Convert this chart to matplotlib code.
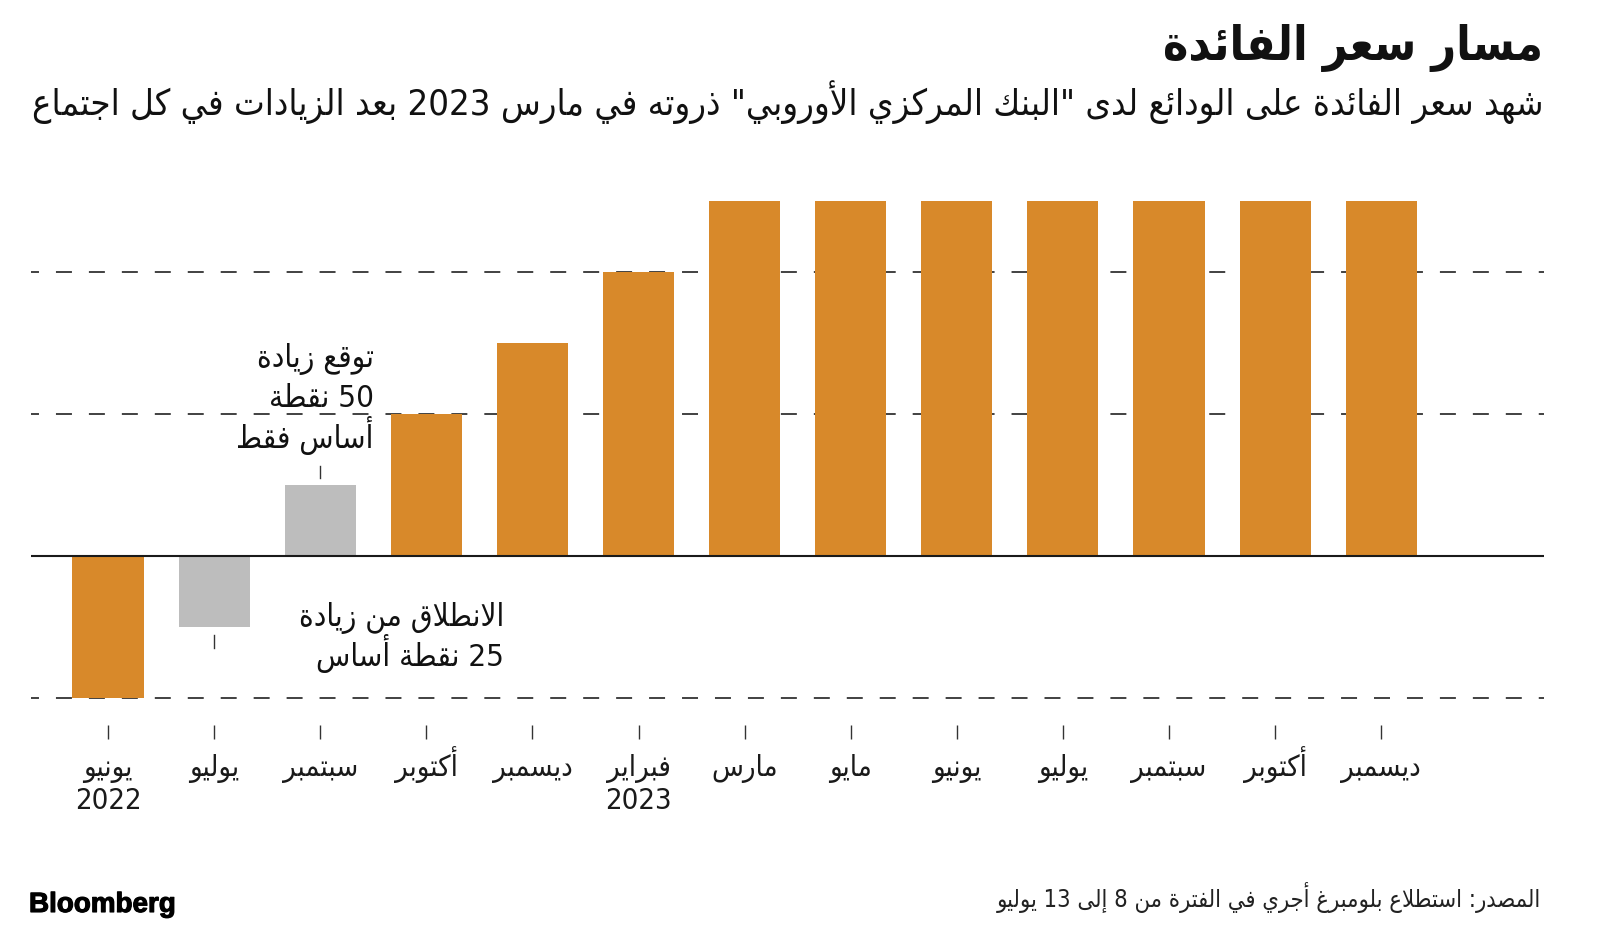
import re
import matplotlib
matplotlib.use('Agg')
import matplotlib.pyplot as plt
from matplotlib import font_manager
from matplotlib.ft2font import FT2Font
from matplotlib.font_manager import FontProperties
from matplotlib.transforms import blended_transform_factory
import matplotlib.patheffects as pe

# ---------------- data ----------------
months = ['يونيو\n2022', 'يوليو', 'سبتمبر', 'أكتوبر', 'ديسمبر', 'فبراير\n2023',
          'مارس', 'مايو', 'يونيو', 'يوليو', 'سبتمبر', 'أكتوبر', 'ديسمبر']
rates = [-0.50, -0.25, 0.25, 0.50, 0.75, 1.00, 1.25, 1.25, 1.25, 1.25, 1.25, 1.25, 1.25]
expectation = [False, True, True, False, False, False, False, False, False, False, False, False, False]
gridlines = [-0.5, 0.5, 1.0]

title = 'مسار سعر الفائدة'
subtitle = 'شهد سعر الفائدة على الودائع لدى "البنك المركزي الأوروبي" ذروته في مارس 2023 بعد الزيادات في كل اجتماع'
note_top = 'توقع زيادة\n50 نقطة\nأساس فقط'
note_bottom = 'الانطلاق من زيادة\n25 نقطة أساس'
source = 'المصدر: استطلاع بلومبرغ أجري في الفترة من 8 إلى 13 يوليو'
brand = 'Bloomberg'

ORANGE = '#D8892A'
GREY = '#BDBDBD'

# ---------------- Arabic shaping (presentation forms + visual order) ----------------
_DUAL = {'ئ': 0xFE89, 'ب': 0xFE8F, 'ت': 0xFE95, 'ث': 0xFE99, 'ج': 0xFE9D, 'ح': 0xFEA1,
         'خ': 0xFEA5, 'س': 0xFEB1, 'ش': 0xFEB5, 'ص': 0xFEB9, 'ض': 0xFEBD, 'ط': 0xFEC1,
         'ظ': 0xFEC5, 'ع': 0xFEC9, 'غ': 0xFECD, 'ف': 0xFED1, 'ق': 0xFED5, 'ك': 0xFED9,
         'ل': 0xFEDD, 'م': 0xFEE1, 'ن': 0xFEE5, 'ه': 0xFEE9, 'ي': 0xFEF1}
_RIGHT = {'آ': 0xFE81, 'أ': 0xFE83, 'ؤ': 0xFE85, 'إ': 0xFE87, 'ا': 0xFE8D, 'ة': 0xFE93,
          'د': 0xFEA9, 'ذ': 0xFEAB, 'ر': 0xFEAD, 'ز': 0xFEAF, 'و': 0xFEED, 'ى': 0xFEEF}
_LIGS = {'آ': 0xFEF5, 'أ': 0xFEF7, 'إ': 0xFEF9, 'ا': 0xFEFB}
_NONE = {'ء': 0xFE80}


def _shape(s):
    toks = []
    i = 0
    while i < len(s):
        c = s[i]
        if c == 'ل' and i + 1 < len(s) and s[i + 1] in _LIGS:
            toks.append(('LIG', s[i + 1]))
            i += 2
        else:
            toks.append(c)
            i += 1
    out = []
    for k, t in enumerate(toks):
        prev = toks[k - 1] if k > 0 else None
        nxt = toks[k + 1] if k + 1 < len(toks) else None
        jp = prev is not None and (not isinstance(prev, tuple)) and prev in _DUAL
        jn = nxt is not None and (isinstance(nxt, tuple) or nxt in _DUAL or nxt in _RIGHT)
        if isinstance(t, tuple):
            out.append(chr(_LIGS[t[1]] + (1 if jp else 0)))
        elif t in _DUAL:
            form = 3 if (jp and jn) else 1 if jp else 2 if jn else 0
            out.append(chr(_DUAL[t] + form))
        elif t in _RIGHT:
            out.append(chr(_RIGHT[t] + (1 if jp else 0)))
        elif t in _NONE:
            out.append(chr(_NONE[t]))
        else:
            out.append(t)
    return ''.join(out)


def ar(s):
    lines = []
    for line in s.split('\n'):
        shaped = _shape(line)
        toks = re.findall(r'[0-9A-Za-z]+(?:[.,][0-9A-Za-z]+)*|.', shaped)
        lines.append(''.join(reversed(toks)))
    return '\n'.join(lines)


# ---------------- font selection ----------------
NEEDED = [0xFEF1, 0xFEFB, 0xFE8D, 0xFEE3, 0xFEB3, 0xFEEA, 0xFEF7]


def _arabic_fonts():
    res = []
    seen = set()
    for f in font_manager.fontManager.ttflist:
        if 'CJK' in f.name or f.fname in seen:
            continue
        seen.add(f.fname)
        try:
            cm = FT2Font(f.fname).get_charmap()
        except Exception:
            continue
        if all(c in cm for c in NEEDED):
            res.append(f)
    return res


AR_FONTS = _arabic_fonts()


def _weight(f):
    w = f.weight
    if isinstance(w, int):
        return w
    return font_manager.weight_dict.get(w, 400)


def pick(bold, condensed):
    if not AR_FONTS:
        return FontProperties(family='DejaVu Sans', weight='bold' if bold else 'normal'), False

    def score(f):
        s = abs(_weight(f) - (700 if bold else 400)) / 100.0
        iscond = 'condensed' in str(f.stretch).lower() or 'condensed' in f.fname.lower()
        s += 0 if iscond == condensed else 3
        s += 0 if 'Sans' in f.name else 2
        s += 0 if f.style == 'normal' else 10
        s += 5 if 'Mono' in f.name else 0
        return s
    best = min(AR_FONTS, key=score)
    return FontProperties(fname=best.fname), (bold and _weight(best) < 600)


fp_body, _ = pick(False, True)
fp_title, fake_bold = pick(True, True)

# ---------------- figure ----------------
W, H = 1600, 930
fig = plt.figure(figsize=(W / 100, H / 100), dpi=100)
fig.patch.set_facecolor('white')


def fy(px):
    return 1 - px / H


ax_left, ax_right, ax_top, ax_bottom = 31, 1544, 130, 725
ax = fig.add_axes([ax_left / W, (H - ax_bottom) / H, (ax_right - ax_left) / W, (ax_bottom - ax_top) / H])
ax.set_xlim(-0.726, 13.534)
ax.set_ylim(-0.595, 1.5)
for sp in ax.spines.values():
    sp.set_visible(False)
ax.set_yticks([])

x = list(range(len(rates)))
colors = [GREY if e else ORANGE for e in expectation]
ax.bar(x, rates, width=0.67, color=colors, zorder=2, linewidth=0)

for g in gridlines:
    ax.axhline(g, color='#333333', lw=1.3, zorder=1, linestyle=(4.43, (8.85, 9.4)))
ax.axhline(0, color='#1a1a1a', lw=1.5, zorder=3)

ax.set_xticks(x)
ax.tick_params(axis='x', direction='out', length=10, width=1.0, color='#333333',
               labelbottom=False)

# month labels (first line baseline aligned; year on a second line)
xf = blended_transform_factory(ax.transData, fig.transFigure)
for i, m in enumerate(months):
    parts = m.split('\n')
    ax.text(i, fy(776), ar(parts[0]), transform=xf, fontproperties=fp_body, fontsize=21,
            ha='center', va='baseline', color='#1a1a1a', clip_on=False)
    if len(parts) > 1:
        ax.text(i, fy(809), ar(parts[1]), transform=xf, fontproperties=fp_body, fontsize=21,
                ha='center', va='baseline', color='#1a1a1a', clip_on=False)

# annotation leader ticks
ax.plot([2, 2], [rates[2] + 0.025, rates[2] + 0.068], color='#333333', lw=1.0, zorder=3)
ax.plot([1, 1], [rates[1] - 0.027, rates[1] - 0.075], color='#333333', lw=1.0, zorder=3)

# annotations, one text per line on its own baseline
for line, base in zip(note_top.split('\n'), [367, 407, 448]):
    fig.text(374 / W, fy(base), ar(line), fontproperties=fp_body, fontsize=22.5,
             ha='right', va='baseline', color='#111111')
for line, base in zip(note_bottom.split('\n'), [626, 666]):
    fig.text(504 / W, fy(base), ar(line), fontproperties=fp_body, fontsize=22.5,
             ha='right', va='baseline', color='#111111')

renderer = fig.canvas.get_renderer()


def fit(t, target_w):
    bb = t.get_window_extent(renderer)
    t.set_fontsize(t.get_fontsize() * target_w / bb.width)


t_title = fig.text(1543 / W, fy(48), ar(title), fontproperties=fp_title, fontsize=34,
                   ha='right', va='center', color='#111111')
if fake_bold:
    t_title.set_path_effects([pe.withStroke(linewidth=2.5, foreground='#111111')])
fit(t_title, 380)

t_sub = fig.text(1543 / W, fy(102), ar(subtitle), fontproperties=fp_body, fontsize=20,
                 ha='right', va='center', color='#111111')
fit(t_sub, 1509)

t_src = fig.text(1541 / W, fy(897), ar(source), fontproperties=fp_body, fontsize=14,
                 ha='right', va='center', color='#222222')
fit(t_src, 548)

t_brand = fig.text(29 / W, fy(905), brand, fontfamily=['Liberation Sans', 'DejaVu Sans'],
                   fontweight='bold', fontsize=18, ha='left', va='center', color='#000000')
t_brand.set_path_effects([pe.withStroke(linewidth=0.8, foreground='#000000')])
fit(t_brand, 147)

fig.savefig('out.png', dpi=100, facecolor='white')
